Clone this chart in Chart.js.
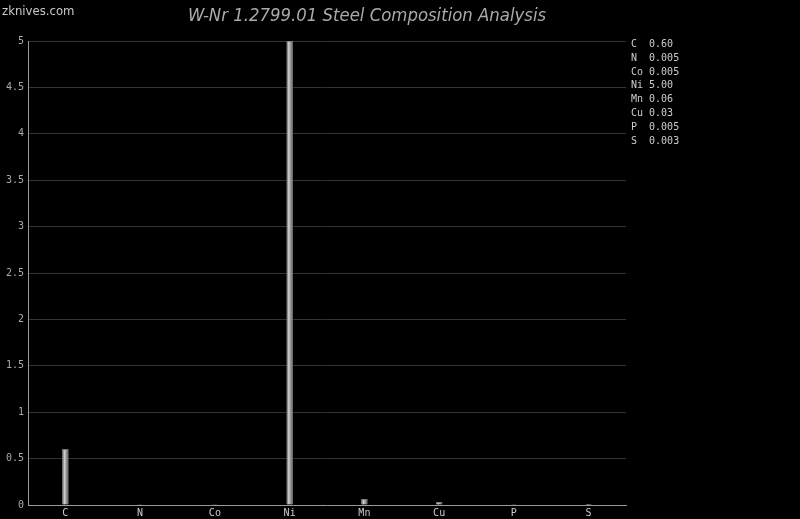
<!DOCTYPE html>
<html>
<head>
<meta charset="utf-8">
<script src="https://cdn.jsdelivr.net/npm/chart.js@4.4.0/dist/chart.umd.min.js"></script>
<style>
  html, body { margin: 0; padding: 0; background: #000; }
  #wrap { position: relative; width: 800px; height: 519px; background: #000; overflow: hidden; }
  #site { position: absolute; left: 2px; top: 3px; font: 13px "DejaVu Sans Condensed", "DejaVu Sans", sans-serif; color: #c8c8c8; white-space: nowrap; }
  #title { position: absolute; left: 188px; top: 5px; font: italic 17px "DejaVu Sans Condensed", "DejaVu Sans", sans-serif; color: #aaa; white-space: nowrap; transform: scaleX(1.08); transform-origin: 0 0; }
  #legend { position: absolute; left: 631px; top: 37px; margin: 0; font: 10px "DejaVu Sans Mono", monospace; line-height: 13.8px; color: #ccc; }
</style>
</head>
<body>
<div id="wrap">
  <canvas id="myChart" width="800" height="519"></canvas>
  <div id="site">zknives.com</div>
  <div id="title">W-Nr 1.2799.01 Steel Composition Analysis</div>
  <pre id="legend"></pre>
</div>
<script>
// element symbols and their percentages
var elements = ['C', 'N', 'Co', 'Ni', 'Mn', 'Cu', 'P', 'S'];
var percents = [0.60, 0.005, 0.005, 5.00, 0.06, 0.03, 0.005, 0.003];
var percentText = ['0.60', '0.005', '0.005', '5.00', '0.06', '0.03', '0.005', '0.003'];
var yTicks = [0, 0.5, 1, 1.5, 2, 2.5, 3, 3.5, 4, 4.5, 5];

// side list
var lines = [];
for (var i = 0; i < elements.length; i++) {
  var sym = elements[i].length < 2 ? elements[i] + ' ' : elements[i];
  lines.push(sym + ' ' + percentText[i]);
}
document.getElementById('legend').textContent = lines.join('\n');

var BAR_W = 6;

function barFill(context) {
  var chart = context.chart;
  var xs = chart.scales.x;
  if (!xs || context.dataIndex === undefined) return '#999';
  var cx = xs.getPixelForValue(context.dataIndex);
  if (!isFinite(cx)) return '#999';
  var g = chart.ctx.createLinearGradient(cx - BAR_W / 2, 0, cx + BAR_W / 2, 0);
  g.addColorStop(0, '#666');
  g.addColorStop(0.35, '#d0d0d0');
  g.addColorStop(0.6, '#a0a0a0');
  g.addColorStop(1, '#666');
  return g;
}

var ctx = document.getElementById('myChart').getContext('2d');
var chart = new Chart(ctx, {
  type: 'bar',
  data: {
    labels: elements,
    datasets: [{
      label: 'wt %',
      data: percents,
      backgroundColor: barFill,
      borderColor: '#777',
      borderWidth: 1,
      barThickness: BAR_W
    }]
  },
  options: {
    responsive: false,
    animation: false,
    layout: { padding: { top: 41, right: 174, left: 0, bottom: 0 } },
    plugins: {
      legend: { display: false },
      title: { display: false },
      tooltip: { enabled: false }
    },
    scales: {
      x: {
        grid: { display: false, drawTicks: false },
        border: { color: '#999', width: 1 },
        ticks: { color: '#ccc', font: { family: 'DejaVu Sans Mono', size: 10 }, padding: 2, maxRotation: 0 },
        afterFit: function (s) { s.height = 14; }
      },
      y: {
        min: 0,
        max: 5,
        afterBuildTicks: function (s) { s.ticks = yTicks.map(function (v) { return { value: v }; }); },
        grid: { color: '#333', drawTicks: false },
        border: { color: '#999', width: 1 },
        ticks: {
          color: '#aaa',
          font: { family: 'DejaVu Sans Mono', size: 10 },
          padding: 4,
          callback: function (v) { return String(v); }
        },
        afterFit: function (s) { s.width = 28; }
      }
    }
  }
});
chart.update();
</script>
</body>
</html>
